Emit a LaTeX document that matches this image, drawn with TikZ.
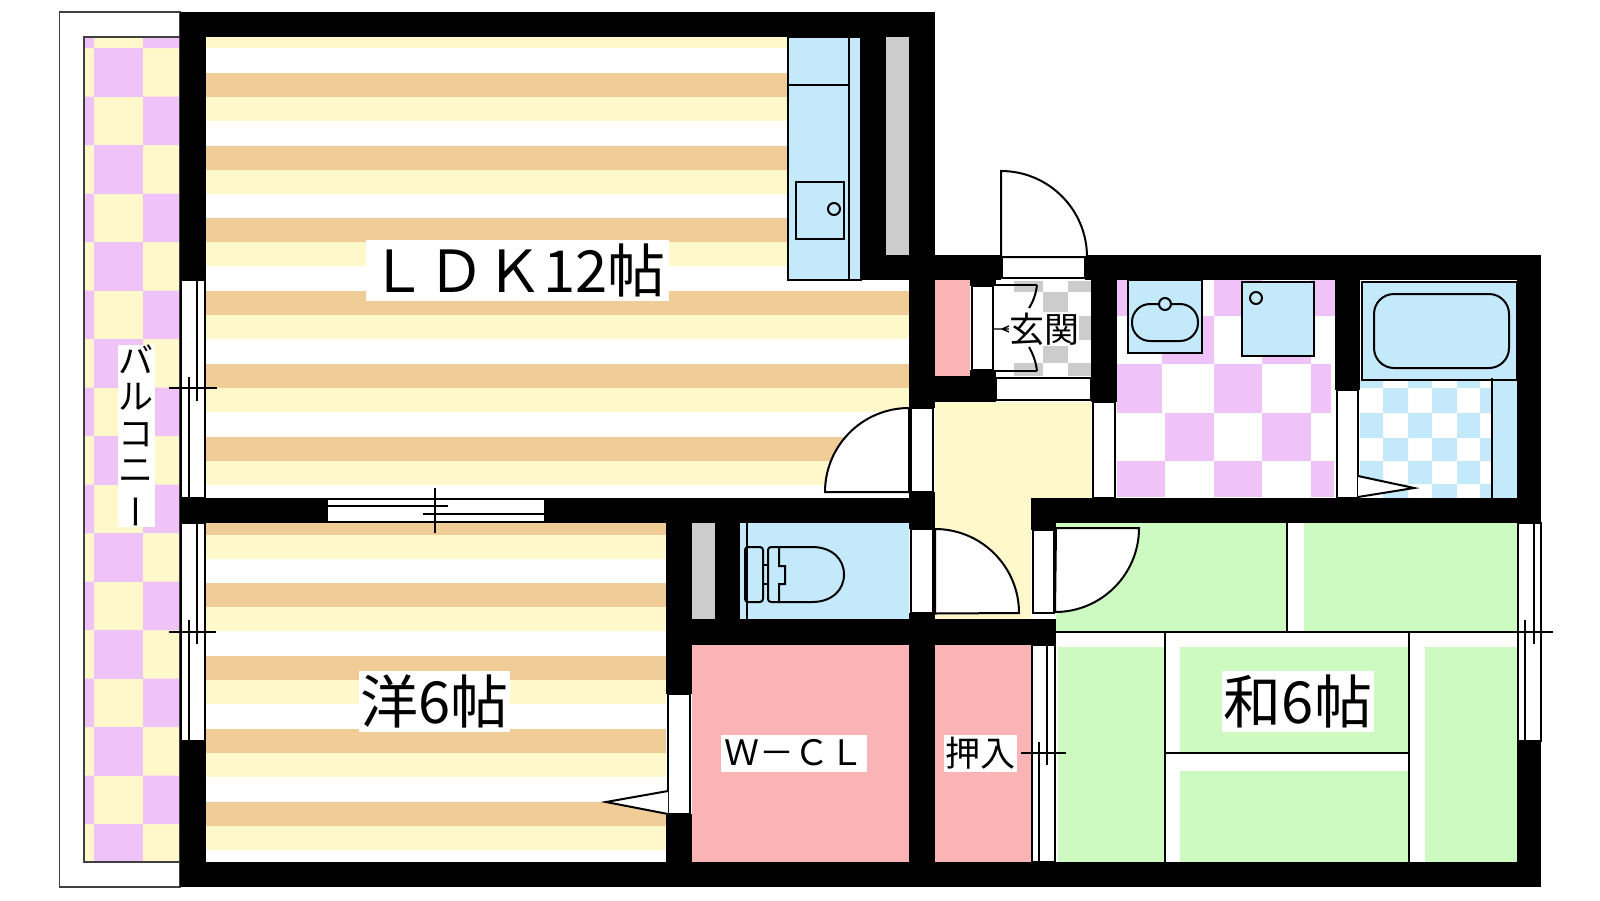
\documentclass[tikz,border=0pt]{standalone}
\usepackage{fontspec}
\setmainfont{Noto Sans CJK JP}
\usetikzlibrary{positioning}
\definecolor{floorcream}{HTML}{FFF8CB}
\definecolor{floortan}{HTML}{F0CC97}
\definecolor{floorlilac}{HTML}{EFC3F8}
\definecolor{fixblue}{HTML}{C3E9FB}
\definecolor{matgreen}{HTML}{CDFAC1}
\definecolor{closetpink}{HTML}{FBB4B6}
\definecolor{shelfgrey}{HTML}{CCCCCC}
\tikzstyle{every picture}+=[line width=0.7pt]
\tikzstyle{wall} = [fill=black]
\tikzstyle{sash} = [draw,fill=white]
\tikzstyle{fixture} = [draw,fill=fixblue]
\tikzstyle{heavy} = [line width=1pt]
\tikzstyle{roomname} = [fill=white,inner sep=0pt,align=center]
\tikzstyle{bigname} = [roomname,font=\fontsize{29pt}{29pt}\selectfont,minimum height=30.5pt]
\tikzstyle{smallname} = [roomname,font=\fontsize{17.5pt}{18pt}\selectfont,minimum height=18.5pt]

\begin{document}
\begin{tikzpicture}[x=0.5pt,y=-0.5pt]
\useasboundingbox (0,0) rectangle (1600,900);

    % Balcony
    \draw [line width=0.9pt,draw=black!75] (59.5,12) rectangle (180,887);
    \fill [floorcream] (84,37) rectangle (180,862);
    \fill [floorlilac] (84,37) rectangle (94,48) (143,37) rectangle (180,48);
    \foreach \k [evaluate=\k as \y using 48+48.5*(\k-1)] in {1,3,...,15}
        \fill [floorlilac] (94,\y) rectangle +(49,48.5);
    \fill [floorlilac] (94,824) rectangle (143,862);
    \foreach \k [evaluate=\k as \y using 48+48.5*(\k-1)] in {2,4,...,16}
        \fill [floorlilac] (84,\y) rectangle +(10,48.5) (143,\y) rectangle +(37,48.5);
    \draw [line width=0.9pt,draw=black!75] (84,37) rectangle (180,862);

    % Striped floors
    \fill [floorcream] (206,37) rectangle (909,48);
    \foreach \k [evaluate=\k as \y using 73+72.7*\k] in {0,...,5} {
        \fill [floortan] (206,\y) rectangle +(703,24);
        \fill [floorcream] (206,\y+24) rectangle +(703,24);
    }
    \fill [floortan] (206,523) rectangle (666,535);
    \fill [floorcream] (206,535) rectangle (666,559);
    \foreach \k [evaluate=\k as \y using 582.5+73*\k] in {0,...,3} {
        \fill [floortan] (206,\y) rectangle +(460,24.5);
        \fill [floorcream] (206,\y+24.5) rectangle +(460,24);
    }

    % Hall and closets
    \fill [floorcream] (935,402) rectangle (1091,498) (935,498) rectangle (1031,619);
    \fill [closetpink] (935,280) rectangle (970,376);
    \fill [closetpink] (692,645) rectangle (909,862);
    \fill [closetpink] (935,645) rectangle (1031,862);
    \fill [shelfgrey] (886,37) rectangle (909,255);
    \fill [shelfgrey] (692,523) rectangle (715,619);

    % Entrance floor
    \foreach \xa/\ya/\xb/\yb in {1014/281/1043/292,1068/281/1092/292,1043/292/1068/316,1068/316/1092/340,
        1043/340/1068/363,1014/363/1043/376,1068/363/1092/376}
        \fill [shelfgrey] (\xa,\ya) rectangle (\xb,\yb);

    % Washroom floor
    \foreach \xa/\ya/\xb/\yb in {1117/280/1128/316,1214/280/1262/316,1311/280/1335/316,
        1162/316/1214/364,1262/316/1311/364,1117/364/1162/413,1214/364/1262/413,1311/364/1331/413,
        1165/413/1214/461,1262/413/1311/461,1117/461/1165/497,1214/461/1262/497,1311/461/1334/497}
        \fill [floorlilac] (\xa,\ya) rectangle (\xb,\yb);

    % Bathroom floor
    \fill [fixblue] (1492,378) rectangle (1517,498);
    \foreach \ya/\yb in {380/388,413/438,461/484}
        \fill [fixblue] (1360,\ya) rectangle (1383,\yb) (1408,\ya) rectangle (1432,\yb)
            (1457,\ya) rectangle (1480,\yb);
    \foreach \ya/\yb in {388/413,438/461,484/498}
        \fill [fixblue] (1383,\ya) rectangle (1408,\yb) (1432,\ya) rectangle (1457,\yb)
            (1480,\ya) rectangle (1492,\yb);

    % Tatami mats
    \fill [matgreen] (1056,523) rectangle (1287,632) (1304,523) rectangle (1517,632);
    \fill [matgreen] (1058,647) rectangle (1165,862);
    \fill [matgreen] (1180,647) rectangle (1409,753);
    \fill [matgreen] (1180,771) rectangle (1409,862);
    \fill [matgreen] (1425,647) rectangle (1517,862);
    \draw (1056,632) -- (1517,632);
    \draw (1287,523) -- (1287,632);
    \draw (1165,632) -- (1165,862);
    \draw (1409,632) -- (1409,862);
    \draw (1165,753) -- (1409,753);

    % Toilet room
    \fill [fixblue] (740,523) rectangle (909,619);
    \draw (747,523) -- (747,619);
    \draw [heavy,rounded corners=1.5pt] (745,547) rectangle (763,602);
    \draw [heavy] (763,565) rectangle (768,584);
    \draw [heavy,rounded corners=1.5pt] (779,547) -- (768,547) -- (768,602) -- (779,602);
    \draw [heavy] (779,547) -- (779,566) -- (785,566) -- (785,584) -- (779,584) -- (779,602)
        -- (812,602) .. controls (832,602) and (844,590) .. (844,574.5)
        .. controls (844,559) and (832,547) .. (812,547) -- cycle;

    % Kitchen counter
    \draw [fixture] (788,37) rectangle (861,280);
    \draw (849,37) -- (849,280);
    \draw (788,85) -- (849,85);
    \draw [heavy] (796,182) rectangle (844,239);
    \draw [heavy] (834,209) circle (6);

    % Basin and washer
    \draw [fixture,heavy] (1128,280) rectangle (1202,353);
    \draw [heavy,rounded corners=9pt] (1132,304) rectangle (1198,341);
    \draw [heavy,fill=fixblue] (1165,304) circle (6);
    \draw [fixture,heavy] (1242,282) rectangle (1314,356);
    \draw [heavy] (1256,298) circle (6);

    % Bath
    \draw [fixture,heavy] (1362,282) rectangle (1517,380);
    \draw [heavy,rounded corners=10pt] (1374,294) rectangle (1509,368);
    \draw [heavy] (1492,378) -- (1492,498);

    % Walls
    \fill [wall] (180,12) rectangle (935,37);
    \fill [wall] (180,12) rectangle (206,280);
    \fill [wall] (180,498) rectangle (327,523);
    \fill [wall] (545,498) rectangle (935,523);
    \fill [wall] (180,741) rectangle (206,887);
    \fill [wall] (180,862) rectangle (1541,887);
    \fill [wall] (861,37) rectangle (886,280);
    \fill [wall] (861,255) rectangle (1001,280);
    \fill [wall] (909,12) rectangle (935,408);
    \fill [wall] (970,280) rectangle (996,286);
    \fill [wall] (970,370) rectangle (996,376);
    \fill [wall] (935,376) rectangle (996,402);
    \fill [wall] (1085,255) rectangle (1541,280);
    \fill [wall] (1091,280) rectangle (1117,402);
    \fill [wall] (1335,280) rectangle (1360,390);
    \fill [wall] (1517,255) rectangle (1541,523);
    \fill [wall] (1031,498) rectangle (1541,523);
    \fill [wall] (1031,498) rectangle (1056,530);
    \fill [wall] (909,492) rectangle (935,529);
    \fill [wall] (909,613) rectangle (935,862);
    \fill [wall] (666,523) rectangle (692,694);
    \fill [wall] (666,814) rectangle (692,862);
    \fill [wall] (715,523) rectangle (740,619);
    \fill [wall] (666,619) rectangle (1056,645);
    \fill [wall] (1517,741) rectangle (1541,862);

    % Door sills
    \draw [sash] (911,408) rectangle (933,492);
    \draw [sash] (911,529) rectangle (933,613);
    \draw [sash] (1033,530) rectangle (1054,613);
    \draw [sash] (1093,402) rectangle (1115,498);
    \draw [sash] (1337,390) rectangle (1358,498);
    \draw [sash] (668,694) rectangle (690,814);
    \draw [sash] (1002,257) rectangle (1085,278);
    \draw [sash] (996,378) rectangle (1091,400);
    \draw [sash] (972,286) rectangle (993,370);

    % Door leaves
    \draw [sash,heavy] (1001,171) -- (1001,257) -- (1087,257) arc (0:-90:86) -- cycle;
    \draw [sash,heavy] (909,408) arc (270:180:84) -- (909,492) -- cycle;
    \draw [sash,heavy] (935,529) arc (-90:0:84) -- (935,613.5) -- cycle;
    \draw [sash,heavy] (1056,528) -- (1139,528) arc (0:90:84) -- cycle;
    \draw [sash,heavy] (668,791) -- (606,802) -- (668,814);
    \draw [sash,heavy] (1358,476) -- (1414,488) -- (1358,497);

    % Sliding entrance door
    \draw [heavy] (1037,285) -- (993,285) -- (993,371) -- (1037,371);
    \draw [heavy] (1037,285) .. controls (1036,294) and (1033,302) .. (1029,308);
    \draw [heavy] (1037,371) .. controls (1036,362) and (1033,354) .. (1029,347);
    \draw (993,329) -- (1009,329) (1009,326) -- (1002,329) -- (1009,332);

    % Windows
    \draw [sash] (181,280) rectangle (205,498);
    \draw (189,377) -- (189,498);
    \draw (197,280) -- (197,401);
    \draw (169,388) -- (217,388);

    \draw [sash] (181,523) rectangle (205,741);
    \draw (189,620) -- (189,741);
    \draw (197,523) -- (197,644);
    \draw (169,632) -- (216,632);

    \draw [sash] (327,499) rectangle (545,522);
    \draw (327,506) -- (448,506);
    \draw (423,514) -- (545,514);
    \draw (435,488) -- (435,533);

    \draw [sash] (1032,645) rectangle (1055,862);
    \draw (1039,742) -- (1039,862);
    \draw (1047,645) -- (1047,765);
    \draw (1021,753) -- (1066,753);

    \draw [sash] (1518,523) rectangle (1541,741);
    \draw (1525,620) -- (1525,741);
    \draw (1534,523) -- (1534,644);
    \draw (1507,632) -- (1553,632);

    % Room names
    \node (ldk) [bigname,minimum width=151.5pt] at (517.5,270) {ＬＤＫ12帖};
    \node (western) [bigname,minimum width=75.5pt] at (434.5,701.5) {洋6帖};
    \node (japanese) [bigname,minimum width=76pt] at (1298,701.5) {和6帖};
    \node (wcl) [smallname,minimum width=73pt] at (794,753) {Ｗ－ＣＬ};
    \node (storage) [smallname,minimum width=36.5pt] at (980.5,753.5) {押入};
    \node (entry) [smallname,minimum width=34pt,minimum height=17pt] at (1044,329) {玄関};
    \node (balcony) [fill=white,minimum width=18.5pt,minimum height=91pt] at (136.5,436) {};
    \node (balconytext) [inner sep=0pt,align=center,font=\fontsize{17.5pt}{18.2pt}\selectfont]
        at ([xshift=-0.5pt,yshift=-0.5pt]balcony.center) {バ\\ル\\コ\\ニ\\\rotatebox[origin=c]{-90}{ー}\kern5pt};

\end{tikzpicture}
\end{document}
